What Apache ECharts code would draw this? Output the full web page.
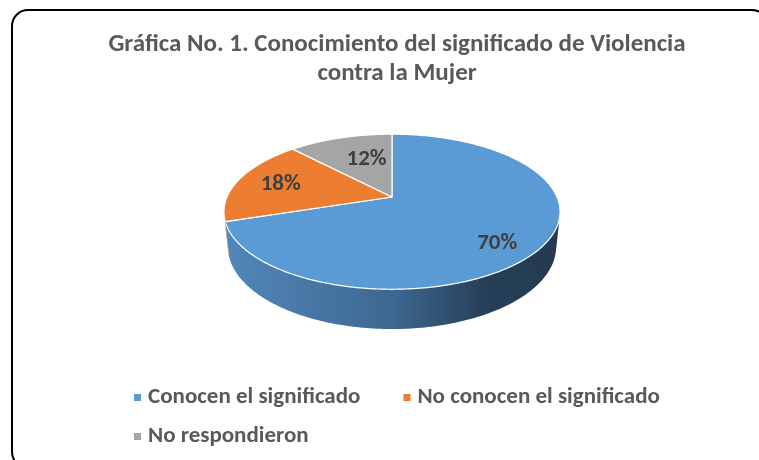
<!DOCTYPE html>
<html>
<head>
<meta charset="utf-8">
<script src="https://cdn.jsdelivr.net/npm/echarts@6/dist/echarts.min.js"></script>
<style>
  html, body { margin: 0; padding: 0; background: #fff; }
  #chart { width: 759px; height: 460px; }
</style>
</head>
<body>
<div id="chart"></div>
<script>
const categories = ['Conocen el significado', 'No conocen el significado', 'No respondieron'];
const values = [70, 18, 12];
const labels = ['70%', '18%', '12%'];
const topColors = ['#5B9BD5', '#ED7D31', '#A5A5A5'];
const sideColors = [
  ['#5287bb', '#3e6891', '#263f58', '#243b52'],
  ['#d0702c', '#a95a22', '#7c3f16', '#763c15'],
  ['#959595', '#7a7a7a', '#585858', '#555555']
];
// label spot per slice: [radius, height] on the disc (like excel's placement)
const labelSpot = [[0.73, -0.076], [0.72, 0], [0.45, 0.06]];

const FONT = "Carlito, 'Liberation Sans', Arial, sans-serif";

// tilted disc, perspective view (Excel-like 3D pie)
const D = 4.69;        // camera distance
const SIN_E = 0.453;   // elevation
const COS_E = 0.891;
const THICK = 0.24;    // disc height

const total = values.reduce((a, b) => a + b, 0);
const starts = [];
let acc = 0;
for (const v of values) {
  starts.push(acc / total * 360);
  acc += v;
}

// angle clockwise from 12 o'clock, seen from above
function project(deg, r, y) {
  const a = deg * Math.PI / 180;
  const x = r * Math.sin(a);
  const z = -r * Math.cos(a);
  const depth = D - y * SIN_E - z * COS_E;
  return [D * x / depth, D * (y * COS_E - z * SIN_E) / depth];
}

const visMin = Math.acos(-1 / (D * COS_E)) * 180 / Math.PI;
const visMax = 360 - visMin;

function arc(api, from, to, y) {
  const pts = [];
  const n = Math.max(2, Math.ceil(Math.abs(to - from)));
  for (let k = 0; k <= n; k++) {
    pts.push(api.coord(project(from + (to - from) * k / n, 1, y)));
  }
  return pts;
}

function makeRender(i) {
  return function (params, api) {
    const a0 = starts[i];
    const a1 = a0 + api.value(0) / total * 360;
    const children = [];

    const lo = Math.max(a0, visMin);
    const hi = Math.min(a1, visMax);
    if (hi > lo) {
      const left = api.coord([-1, 0])[0];
      const right = api.coord([1, 0])[0];
      const pts = arc(api, lo, hi, 0).concat(arc(api, hi, lo, -THICK));
      children.push({
        type: 'polygon',
        shape: { points: pts },
        style: {
          fill: {
            type: 'linear', x: left, y: 0, x2: right, y2: 0, global: true,
            colorStops: [
              { offset: 0, color: sideColors[i][0] },
              { offset: 0.5, color: sideColors[i][1] },
              { offset: 0.78, color: sideColors[i][2] },
              { offset: 1, color: sideColors[i][3] }
            ]
          }
        }
      });
    }

    const topPts = [api.coord(project(0, 0, 0))].concat(arc(api, a0, a1, 0));
    children.push({
      type: 'polygon',
      shape: { points: topPts },
      style: { fill: topColors[i], stroke: '#ffffff', lineWidth: 1.2, lineJoin: 'round' }
    });

    const mid = (a0 + a1) / 2;
    const lp = api.coord(project(mid, labelSpot[i][0], labelSpot[i][1]));
    children.push({
      type: 'text',
      x: lp[0],
      y: lp[1],
      style: {
        text: labels[i],
        fill: '#404040',
        font: 'bold 23px ' + FONT,
        align: 'center',
        verticalAlign: 'middle'
      }
    });

    return { type: 'group', children: children };
  };
}

const chart = echarts.init(document.getElementById('chart'));

const legendText = {
  color: '#595959',
  fontSize: 23,
  fontWeight: 'bold',
  fontFamily: FONT,
  padding: [0, 0, 0, 2]
};

chart.setOption({
  backgroundColor: '#ffffff',
  animation: false,
  title: {
    text: 'Gráfica No. 1. Conocimiento del significado de Violencia\ncontra la Mujer',
    left: 392,
    top: 25,
    textAlign: 'center',
    textStyle: {
      color: '#595959',
      fontSize: 25,
      fontWeight: 'bold',
      fontFamily: FONT,
      lineHeight: 29
    }
  },
  graphic: [{
    type: 'rect',
    shape: { x: 12, y: 10, width: 756, height: 458, r: 16 },
    style: { fill: 'none', stroke: '#000000', lineWidth: 2 },
    z: 100
  }],
  legend: [{
    data: categories.slice(0, 2),
    left: 129,
    top: 381,
    icon: 'rect',
    itemWidth: 7,
    itemHeight: 7,
    itemGap: 43,
    selectedMode: false,
    textStyle: legendText
  }, {
    data: categories.slice(2),
    left: 129,
    top: 420,
    icon: 'rect',
    itemWidth: 7,
    itemHeight: 7,
    selectedMode: false,
    textStyle: legendText
  }],
  grid: { left: 227, top: 32, width: 330, height: 330 },
  xAxis: { type: 'value', min: -1, max: 1, show: false },
  yAxis: { type: 'value', min: -1, max: 1, show: false },
  series: categories.map((name, i) => ({
    type: 'custom',
    name: name,
    coordinateSystem: 'cartesian2d',
    clip: false,
    itemStyle: { color: topColors[i] },
    encode: { x: -1, y: -1 },
    data: [[values[i]]],
    renderItem: makeRender(i)
  }))
});
</script>
</body>
</html>
